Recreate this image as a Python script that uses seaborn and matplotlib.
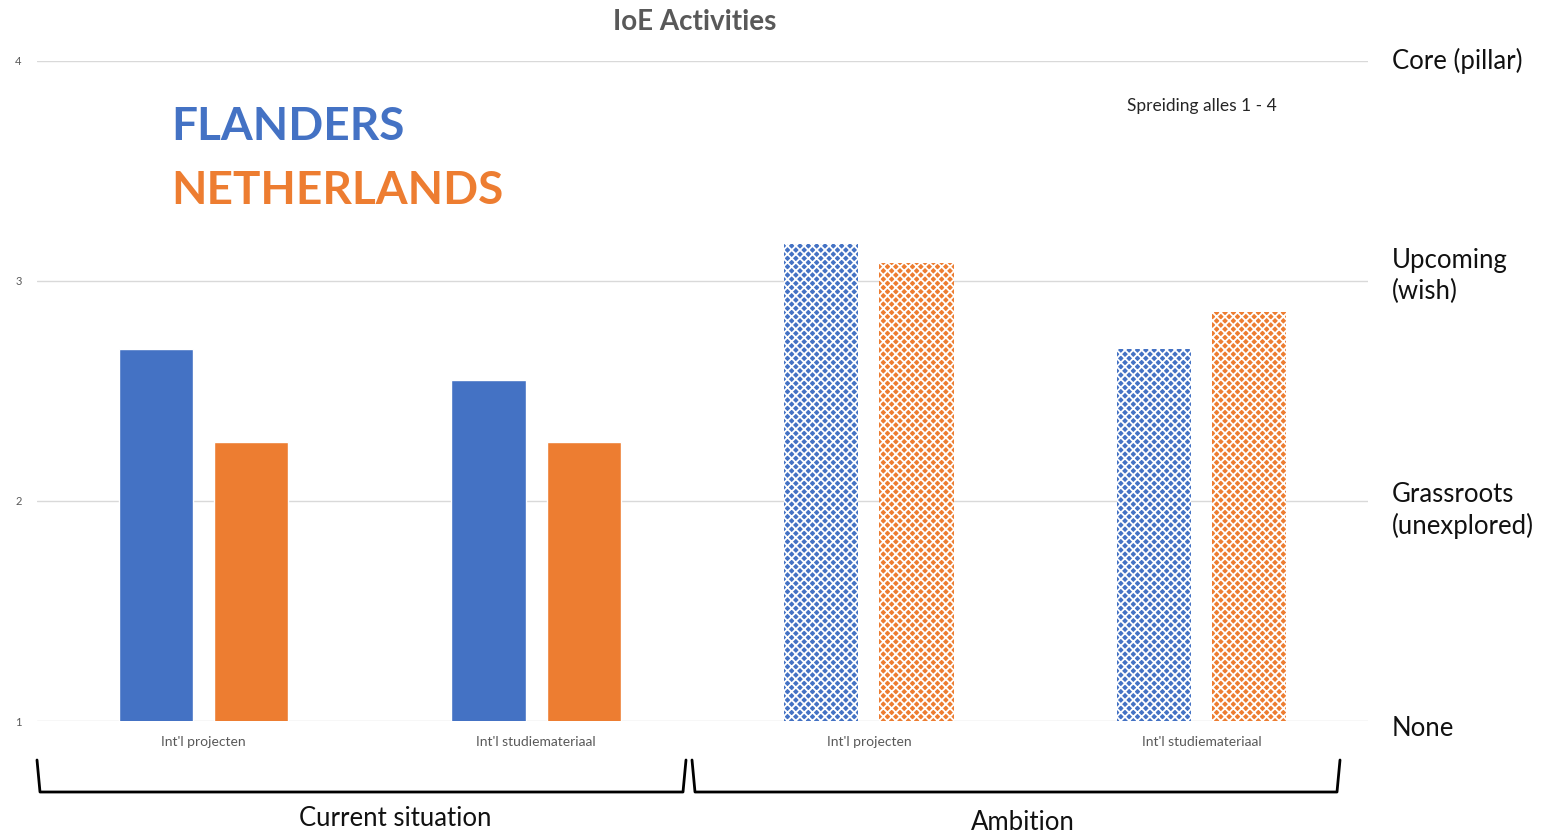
import pandas as pd
import numpy as np
import matplotlib.pyplot as plt
import seaborn as sns
from matplotlib.lines import Line2D

# data
situations = ["Current situation", "Current situation", "Ambition", "Ambition"]
topics = ["Int'l projecten", "Int'l studiemateriaal", "Int'l projecten", "Int'l studiemateriaal"]
flanders = [2.69, 2.55, 3.17, 2.69]
netherlands = [2.27, 2.27, 3.08, 2.86]
levels = ["None", "Grassroots\n(unexplored)", "Upcoming\n(wish)", "Core (pillar)"]

slots = ["cur_proj", "cur_stud", "amb_proj", "amb_stud"]
data = pd.DataFrame({
    "slot": slots * 2,
    "topic": topics * 2,
    "situation": situations * 2,
    "country": ["FLANDERS"] * 4 + ["NETHERLANDS"] * 4,
    "score": flanders + netherlands,
})

blue = "#4472C4"
orange = "#ED7D31"

sns.set_theme(style="white")
plt.rcParams['font.family'] = ['Lato', 'DejaVu Sans']
plt.rcParams['hatch.linewidth'] = 1.3

fig = plt.figure(figsize=(15.43, 8.35), dpi=100)
ax = fig.add_axes([0.024, 0.1365, 0.8626, 0.7905])

sns.barplot(data=data, x="slot", y="score", hue="country", order=slots,
            palette=[blue, orange], saturation=1, width=0.572, gap=0.22,
            ax=ax, legend=False)

ax.set_ylim(1, 4)
ax.set_xlim(-0.5, 3.5)
ax.set_yticks([1, 2, 3, 4])
ax.yaxis.grid(True, color="#d9d9d9", linewidth=1)
ax.set_axisbelow(True)
sns.despine(ax=ax, left=True, bottom=True, top=True, right=True)
ax.tick_params(axis="y", labelsize=8, colors="#595959", pad=11, length=0)
ax.tick_params(axis="x", labelsize=10, colors="#595959", pad=11, length=0)
ax.set_xticks(range(4))
ax.set_xticklabels(topics)
ax.set_xlabel("")
ax.set_ylabel("")

# ambition bars get the lattice pattern
for i, bar in enumerate(ax.patches):
    if data["situation"].iloc[i] == "Ambition":
        bar.set_hatch("xxxx")
        bar.set_edgecolor("white")
        bar.set_linewidth(0)

fig.text(0.45, 1 - 22 / 835, "IoE Activities", ha="center", va="center",
         fontsize=20, fontweight="bold", color="#595959")

fig.text(0.111, 1 - 127 / 835, "FLANDERS", ha="left", va="center", fontsize=33,
         fontweight="bold", color=blue)
fig.text(0.111, 1 - 191 / 835, "NETHERLANDS", ha="left", va="center", fontsize=33,
         fontweight="bold", color=orange)

fig.text(1202 / 1543, 1 - 106 / 835, "Spreiding alles 1 - 4", ha="center",
         va="center", fontsize=12.5, color="#262626")

# level names on the right (first-line pixel rows from the reference)
label_rows = [728, 494, 260, 60]
for lvl, row in zip(levels, label_rows):
    fig.text(0.902, 1 - (row - 12) / 835, lvl, ha="left", va="top",
             fontsize=18.5, color="#111111", linespacing=1.3)

# brackets under the groups
def bracket(x0, x1):
    xs = [x0 / 1543, (x0 + 3) / 1543, (x1 - 3) / 1543, x1 / 1543]
    ys = [1 - 760 / 835, 1 - 792 / 835, 1 - 792 / 835, 1 - 760 / 835]
    fig.add_artist(Line2D(xs, ys, color="black", linewidth=2,
                          transform=fig.transFigure))

bracket(37, 686)
bracket(692, 1340)

fig.text(395 / 1543, 1 - 818 / 835, "Current situation", ha="center",
         va="center", fontsize=18.5, color="#111111")
fig.text(1023 / 1543, 1 - 822 / 835, "Ambition", ha="center",
         va="center", fontsize=18.5, color="#111111")

fig.savefig("out.png", dpi=100)
